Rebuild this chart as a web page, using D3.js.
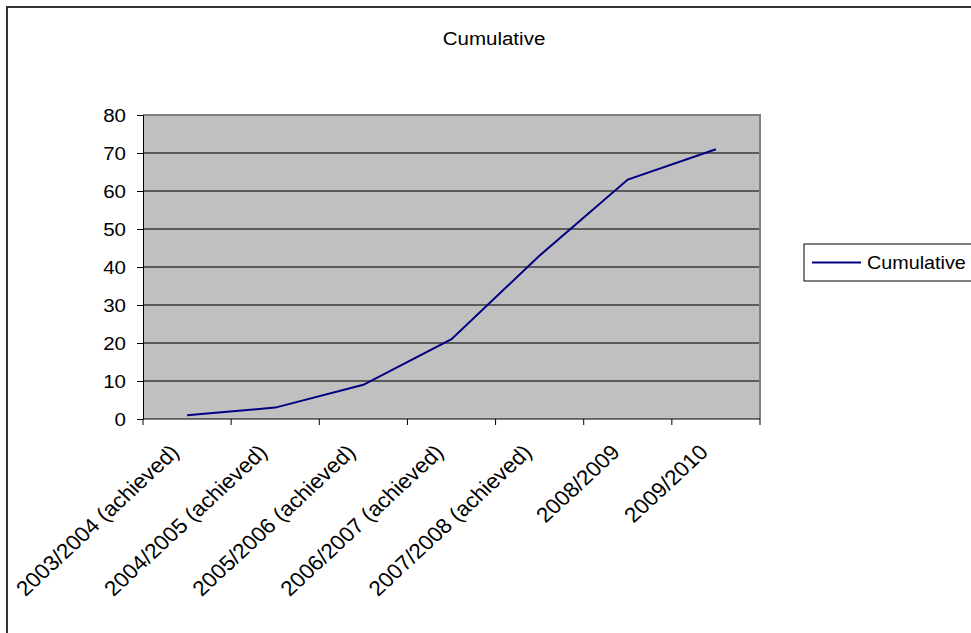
<!DOCTYPE html>
<html>
<head>
<meta charset="utf-8">
<script src="https://cdn.jsdelivr.net/npm/d3@7/dist/d3.min.js"></script>
<style>
  body { margin: 0; background: #fff; }
  text { font-family: Arial, "Liberation Sans", sans-serif; fill: #000; }
</style>
</head>
<body>
<div id="chart"></div>
<script>
var width = 971, height = 633;

var categories = ['2003/2004 (achieved)', '2004/2005 (achieved)', '2005/2006 (achieved)',
    '2006/2007 (achieved)', '2007/2008 (achieved)', '2008/2009', '2009/2010'];
var cumulative = [1, 3, 9, 21, 43, 63, 71];
var yTicks = [0, 10, 20, 30, 40, 50, 60, 70, 80];

var plot = {left: 143, right: 760, top: 115, bottom: 419};
var fontSize = 19, labelSize = 21, stretch = 1.08;

var svg = d3.select('#chart')
    .append('svg')
    .attr('width', width)
    .attr('height', height);

// outer chart border (runs off the right and bottom)
svg.append('rect')
    .attr('x', 7).attr('y', 7)
    .attr('width', 1000).attr('height', 700)
    .attr('fill', '#fff')
    .attr('stroke', '#333')
    .attr('stroke-width', 2);

var xScale = d3.scaleBand()
    .domain(categories)
    .range([plot.left, plot.right]);

var yScale = d3.scaleLinear()
    .domain([0, 80])
    .range([plot.bottom, plot.top]);

// plot area
svg.append('rect')
    .attr('x', plot.left).attr('y', plot.top)
    .attr('width', plot.right - plot.left)
    .attr('height', plot.bottom - plot.top)
    .attr('fill', '#c0c0c0');

// gridlines
svg.append('g')
    .selectAll('line')
    .data(yTicks.filter(function(d){ return d > 0 && d < 80; }))
    .enter()
    .append('line')
    .attr('x1', plot.left).attr('x2', plot.right)
    .attr('y1', function(d){ return yScale(d); })
    .attr('y2', function(d){ return yScale(d); })
    .attr('stroke', '#3a3a3a')
    .attr('stroke-width', 1.5);

// plot border top / right
svg.append('path')
    .attr('d', 'M' + plot.left + ',' + yScale(80) + 'H' + plot.right + 'V' + plot.bottom)
    .attr('fill', 'none')
    .attr('stroke', '#808080')
    .attr('stroke-width', 2);

// y axis
var yAxis = svg.append('g')
    .attr('transform', 'translate(' + plot.left + ',0)')
    .call(d3.axisLeft(yScale).tickValues(yTicks).tickSize(6).tickFormat(''));
yAxis.selectAll('line, path').attr('stroke', '#000');

svg.append('g')
    .selectAll('text')
    .data(yTicks)
    .enter()
    .append('text')
    .attr('transform', function(d){
        return 'translate(126,' + yScale(d) + ') scale(' + stretch + ',1)';
    })
    .attr('text-anchor', 'end')
    .attr('dy', '0.35em')
    .style('font-size', fontSize + 'px')
    .text(function(d){ return d; });

// x axis: ticks at category boundaries
var xAxis = svg.append('g')
    .attr('transform', 'translate(0,' + plot.bottom + ')');
xAxis.append('line')
    .attr('x1', plot.left).attr('x2', plot.right)
    .attr('stroke', '#000');
var bounds = categories.map(function(c){ return xScale(c); }).concat([plot.right]);
xAxis.selectAll('.xtick')
    .data(bounds)
    .enter()
    .append('line')
    .attr('class', 'xtick')
    .attr('x1', function(d){ return d; })
    .attr('x2', function(d){ return d; })
    .attr('y1', 0).attr('y2', 6)
    .attr('stroke', '#000');

xAxis.selectAll('.xlabel')
    .data(categories)
    .enter()
    .append('text')
    .attr('class', 'xlabel')
    .attr('transform', function(d){
        var cx = xScale(d) + xScale.bandwidth() / 2;
        return 'translate(' + (cx - 18) + ',' + 24 + ') scale(' + stretch + ',1) rotate(-45)';
    })
    .attr('text-anchor', 'end')
    .attr('dy', '0.71em')
    .style('font-size', labelSize + 'px')
    .text(function(d){ return d; });

// data line
var line = d3.line()
    .x(function(d, i){ return xScale(categories[i]) + xScale.bandwidth() / 2; })
    .y(function(d){ return yScale(d); });

svg.append('path')
    .datum(cumulative)
    .attr('d', line)
    .attr('fill', 'none')
    .attr('stroke', '#000080')
    .attr('stroke-width', 2);

// title
svg.append('text')
    .attr('transform', 'translate(494,45) scale(' + stretch + ',1)')
    .attr('text-anchor', 'middle')
    .style('font-size', fontSize + 'px')
    .text('Cumulative');

// legend
var legend = svg.append('g').attr('transform', 'translate(804,244)');
legend.append('rect')
    .attr('width', 200).attr('height', 37)
    .attr('fill', '#fff')
    .attr('stroke', '#000');
legend.append('line')
    .attr('x1', 8).attr('x2', 57)
    .attr('y1', 18.5).attr('y2', 18.5)
    .attr('stroke', '#000080')
    .attr('stroke-width', 2);
legend.append('text')
    .attr('transform', 'translate(63,25) scale(1.04,1)')
    .style('font-size', fontSize + 'px')
    .text('Cumulative');
</script>
</body>
</html>
